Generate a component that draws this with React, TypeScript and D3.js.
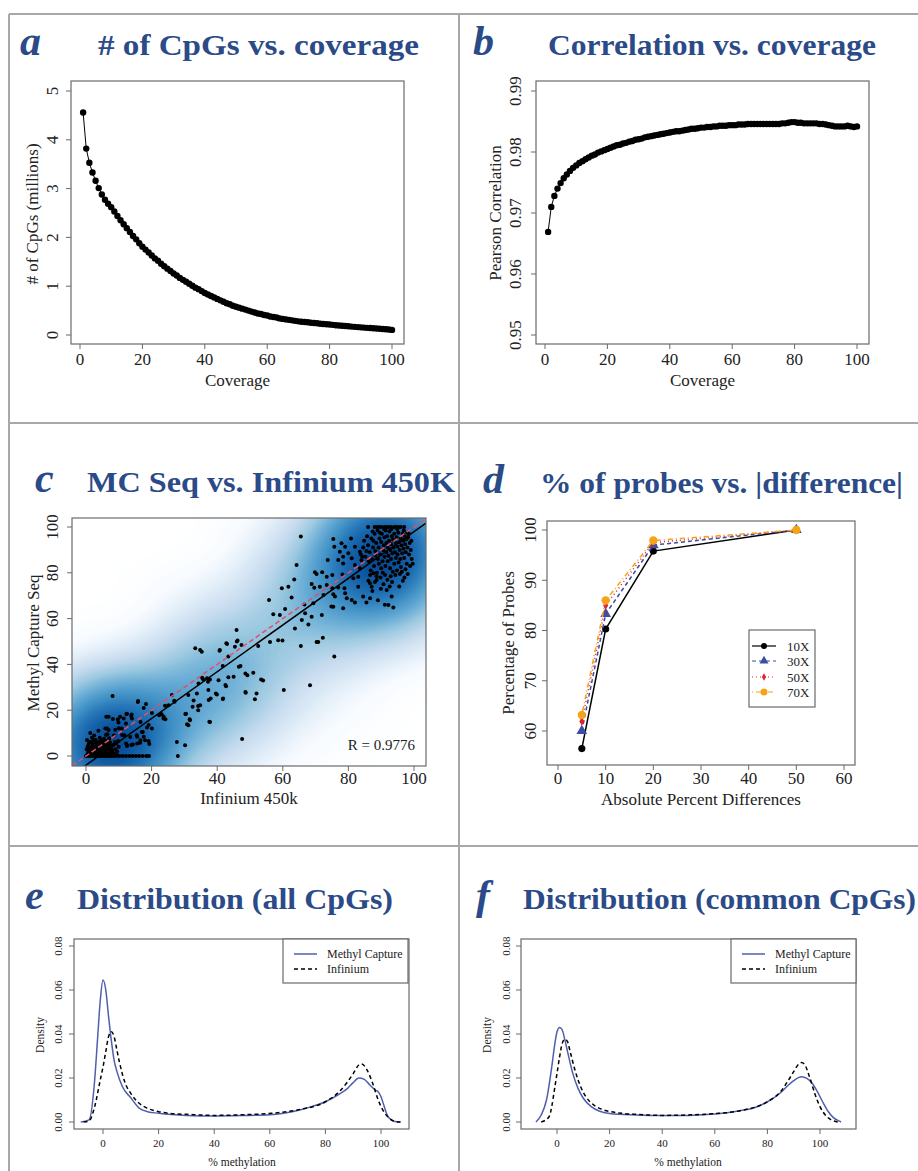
import React from "react";
import * as d3 from "d3";

const W = 918;
const H = 1171;
const TITLE_COLOR = "#2b4b88";
const SERIF = "'Liberation Serif', 'Times New Roman', serif";
const TITLE_FONT = "'Liberation Serif', 'Times New Roman', serif";

// ---------- Panel a / b data ----------
const coverage = d3.range(1, 101);
const cpgMillions = [
  4.56, 3.82, 3.53, 3.33, 3.16, 3.01, 2.88, 2.77, 2.69, 2.62,
  2.53, 2.44, 2.35, 2.27, 2.19, 2.11, 2.03, 1.96, 1.88, 1.81,
  1.75, 1.69, 1.63, 1.57, 1.52, 1.46, 1.41, 1.36, 1.31, 1.26,
  1.22, 1.17, 1.13, 1.09, 1.05, 1.01, 0.97, 0.94, 0.90, 0.86,
  0.83, 0.80, 0.77, 0.74, 0.71, 0.68, 0.65, 0.63, 0.60, 0.58,
  0.56, 0.54, 0.52, 0.50, 0.48, 0.46, 0.44, 0.43, 0.41, 0.40,
  0.38, 0.37, 0.36, 0.34, 0.33, 0.32, 0.31, 0.30, 0.29, 0.28,
  0.27, 0.265, 0.26, 0.25, 0.245, 0.24, 0.232, 0.225, 0.22, 0.215,
  0.208, 0.20, 0.195, 0.19, 0.185, 0.178, 0.172, 0.167, 0.162, 0.157,
  0.152, 0.147, 0.142, 0.137, 0.132, 0.127, 0.122, 0.117, 0.112, 0.105,
];
const pearson = [
  0.9669, 0.9710, 0.9728, 0.9740, 0.9749, 0.9757, 0.9763, 0.9769, 0.9774, 0.9778,
  0.9782, 0.9785, 0.9788, 0.9791, 0.9794, 0.9796, 0.9799, 0.9801, 0.9803, 0.9805,
  0.9807, 0.9809, 0.9811, 0.9812, 0.9814, 0.9815, 0.9817, 0.9818, 0.9820, 0.9821,
  0.9822, 0.9824, 0.9825, 0.9826, 0.9827, 0.9828, 0.9829, 0.9830, 0.9831, 0.9832,
  0.9833, 0.9834, 0.9834, 0.9835, 0.9836, 0.9837, 0.9838, 0.9838, 0.9839, 0.9840,
  0.9840, 0.9841, 0.9841, 0.9842, 0.9842, 0.9843, 0.9843, 0.9843, 0.9844, 0.9844,
  0.9844, 0.9845, 0.9845, 0.9845, 0.9846, 0.9846, 0.9846, 0.9846, 0.9846, 0.9846,
  0.9846, 0.9846, 0.9846, 0.9846, 0.9846, 0.9847, 0.9847, 0.9848, 0.9849, 0.9849,
  0.9848, 0.9848, 0.9847, 0.9847, 0.9847, 0.9847, 0.9847, 0.9846, 0.9846, 0.9845,
  0.9844, 0.9843, 0.9842, 0.9842, 0.9842, 0.9842, 0.9843, 0.9842, 0.9841, 0.9842,
];

// ---------- Panel c data: [Infinium 450k, Methyl Capture Seq] ----------
const mcPoints: [number, number][] = [
  // row at 0
  [0, 0], [0.6, 0], [1.2, 0], [1.8, 0], [2.4, 0], [3, 0], [3.6, 0], [4.2, 0], [4.8, 0], [5.4, 0],
  [6, 0], [6.6, 0], [7.2, 0], [7.8, 0], [8.5, 0], [9.3, 0], [10.2, 0], [11.2, 0], [12.2, 0], [13.2, 0],
  [14.2, 0], [15.2, 0], [16.2, 0], [17.3, 0], [18.4, 0], [19.2, 0], [28, 0],
  // low cluster
  [0.5, 1], [1, 2], [1.2, 3.5], [0.8, 5], [1.5, 6], [0.3, 7], [1.3, 10], [2, 1], [2.3, 2.5], [2.8, 4],
  [2, 5.5], [3, 1.5], [3.5, 3], [3.2, 4.8], [3.8, 6], [4, 1], [4.3, 2.2], [4.5, 3.8], [4.8, 5], [5, 1.6],
  [5.3, 3], [5.5, 4.3], [5.8, 2], [6, 5], [6.2, 3.5], [6.5, 1.2], [6.8, 2.8], [7, 4], [7.3, 6], [7.5, 1.5],
  [7.8, 3.2], [8, 2.3], [8.3, 4.8], [8.6, 1.1], [9, 3], [9.2, 5.5], [9.5, 2], [10, 4], [1.8, 8], [2.5, 9],
  [3, 7], [4.2, 8], [5.5, 7.5], [6.5, 9.5], [8.5, 9], [3.8, 11], [0.2, 3], [0.5, 4], [1.6, 0.8], [2.6, 0.6],
  [3.6, 1.8], [4.6, 0.8], [5.6, 0.7], [6.6, 0.5], [7.6, 0.6], [8.2, 0.9], [9.3, 0.8], [1.1, 1.5], [2.1, 3.2], [3.1, 2.6],
  [4.1, 4.4], [5.1, 5.8], [6.1, 6.6], [7.1, 7.8], [0.7, 2.3], [9.8, 6.5], [2.7, 1.9], [3.9, 2.9], [5.9, 3.9], [4.4, 6.4],
  [1.9, 4.1], [0.9, 6.2], [2.9, 5.9], [6.9, 5.2], [7.9, 4.6], [1.4, 2.9], [2.2, 7.1], [8.8, 6.1],
  // 5 - 20
  [8.1, 26.2], [15.9, 24], [18.3, 22.7], [17.6, 21], [12.3, 18.3], [13.8, 17.5], [14, 16.4], [6.9, 17.1], [8.2, 16.2], [9.9, 14.6],
  [11.5, 16.4], [12.2, 14.2], [5.9, 12], [6.9, 11.4], [10, 12.1], [11, 9.2], [16.6, 14.9], [17.3, 10.5], [18.6, 12.4], [19.1, 13.5],
  [17.6, 8.4], [15.6, 8.4], [16.6, 6.9], [12.2, 5.5], [13.8, 4.8], [12.5, 4.4], [15.6, 5.5], [19.3, 5.2], [6.1, 9.2], [4.9, 6.9],
  [11.7, 9.1], [13.5, 8.3], [15.5, 9.1], [17, 10.5], [20.1, 12], [18, 6.9], [19.1, 6.6], [14.3, 5], [12.5, 4.7], [16.5, 5.8],
  [10.4, 17.1], [6.2, 17.1], [9.7, 15.9], [6.4, 12], [8.9, 11.5], [10.9, 12], [12.5, 18.5], [13.9, 18.1], [15.8, 23.6], [20.1, 18.8],
  // 20 - 55
  [22.9, 18.3], [23.7, 17.1], [24.2, 16], [25.2, 22.2], [26.2, 26.6], [27, 23.7], [26.9, 24.1], [24.1, 21.9], [27.7, 6.1], [30.2, 4.7],
  [30.3, 18.3], [30.8, 13.9], [31.6, 16], [32.5, 21.5], [34.2, 21.8], [34.2, 20], [32.8, 24.2], [35.4, 34.2], [35.7, 33.5], [36.9, 33.9],
  [37.2, 32.4], [37.4, 24.5], [37.6, 15], [39.9, 26.9], [41.8, 25.1], [42.5, 31], [45, 34.6], [33.3, 47], [34.8, 46.3], [40.8, 46.3],
  [42.8, 49.2], [46, 50], [46.6, 39], [48.6, 36], [48.6, 28], [47.6, 7.4], [47.1, 39.3], [45.9, 55], [46.2, 50.4], [47.4, 48.5],
  [45.4, 47.7], [43, 48.9], [43.4, 43.4], [41.7, 39.3], [49.2, 35.3], [51, 36.4], [53.4, 33.4], [43.4, 34.4], [40.4, 33.1], [37.8, 33.4],
  [34.3, 31.7], [31.2, 26.6], [33.8, 27.3], [37.3, 28.8], [39.6, 27.3], [41.7, 24.9], [42.7, 30.5], [38, 25.1], [34.8, 22.2], [30.5, 18.5],
  [31.7, 15.6], [31.2, 13.4], [37.8, 14.9], [48.7, 27.6], [52, 27.3], [51.5, 24.8], [23.1, 18.1], [22.3, 17.8], [23.6, 16.4], [35.3, 45.5],
  [40.7, 46], [52.5, 48], [54, 33],
  // 55 - 85
  [65.5, 95.8], [75.4, 94.8], [80.8, 95], [77.9, 92.9], [75.7, 91.4], [79, 91.4], [82, 91.4], [77.4, 89.2], [80, 88.5], [83.5, 89.2],
  [78.4, 87], [81, 86.3], [84.2, 87], [73.7, 85.6], [76.9, 85.6], [64.2, 83.4], [78.4, 84.1], [82, 83.4], [83.5, 82], [69.8, 80.2],
  [70.3, 79.5], [72, 80.2], [73.4, 78.3], [75.1, 79], [78.2, 79.3], [81.5, 77.6], [83, 78.3], [87.6, 79.8], [63.5, 77.1], [61.7, 73.9],
  [59.7, 73.2], [68.8, 75.1], [69.6, 73.5], [71.3, 73.9], [73.4, 74.7], [75.1, 73.2], [76.9, 73.6], [78.8, 73.2], [83, 73.9], [86.6, 75.4],
  [87.1, 73.9], [88.6, 76.9], [62.7, 69.2], [72.4, 70.3], [75.4, 70.6], [75.9, 69.6], [79, 71.1], [79.5, 68.9], [81, 68.1], [82, 67],
  [84.5, 69.6], [86.6, 68.9], [55.8, 68.1], [69.3, 66.7], [75.4, 65.2], [93.2, 69.6], [92.2, 65.9], [93.7, 64.8], [57.1, 61.9], [66.6, 66.2],
  [66.8, 62.3], [60.7, 64.2], [59.1, 61.6], [68.8, 60.8], [71.9, 61.6], [65.8, 59.4], [67.8, 57.4], [63.7, 55.7], [56.1, 49.8], [58.6, 50.6],
  [70.3, 49.8], [70.8, 49.8], [72.2, 51.6], [65.5, 48], [75.7, 43.4], [68.3, 30.9], [60.3, 28.8], [59.9, 50.4], [85.5, 67], [74.8, 65.3],
  [78.4, 64.5],
  // top cluster
  [86, 92], [86.5, 89], [87, 95], [87.2, 86], [87.5, 91], [87.8, 83], [88, 97], [88.2, 89.5], [88.5, 93], [88.7, 80],
  [89, 86], [89.2, 91], [89.5, 95], [89.7, 88], [90, 82], [90, 93.5], [90.2, 97], [90.4, 85], [90.6, 90], [90.8, 92],
  [91, 87], [91, 95.5], [91.2, 79], [91.3, 83], [91.5, 89], [91.6, 93], [91.8, 96], [92, 85], [92, 91], [92.2, 87.5],
  [92.4, 94], [92.5, 98], [92.7, 82], [92.8, 90], [93, 92.5], [93, 86], [93.2, 96], [93.4, 88.5], [93.5, 80.5], [93.6, 94.5],
  [93.8, 91], [94, 84], [94, 97], [94.2, 89], [94.4, 93], [94.5, 86.5], [94.7, 95.5], [94.8, 81], [95, 91.5], [95, 88],
  [95.2, 97.5], [95.3, 84.5], [95.5, 93.5], [95.6, 90], [95.8, 86], [96, 95], [96, 82.5], [96.2, 92], [96.4, 88.5], [96.5, 97],
  [96.7, 94], [96.8, 90.5], [97, 86.5], [97.2, 96], [97.3, 92.5], [97.5, 89], [97.7, 94.5], [97.8, 84], [98, 91], [98.2, 95.5],
  [98.5, 88], [98.7, 93], [99, 90], [99.2, 94], [89.3, 84], [88.3, 87.5], [87.6, 94], [86.2, 85], [85.7, 96], [85.5, 89.5],
  [86.8, 81], [89.8, 78], [90.5, 80], [91.9, 77], [88.1, 76], [92.9, 78.5], [94.3, 79], [95.7, 79.5], [96.3, 80.5], [97.4, 81.5],
  [98.8, 83], [99.3, 86], [93.1, 99], [94.9, 99], [91.4, 98.5], [90.9, 99], [96.9, 98.5], [97.9, 97.5], [98.4, 97], [89.6, 97.5],
  [88.9, 98.5], [87.4, 98], [84.8, 94], [84.5, 91], [85.2, 87], [86.6, 79], [84, 85.5], [83.8, 88], [88.6, 78.5], [89.9, 73],
  [90.7, 75], [91.7, 72.5], [92.6, 74], [93.3, 76], [87.3, 72], [86.1, 76.5], [89, 68], [91.1, 66], [95.5, 74], [96.6, 76.5],
  [97.1, 78], [98.1, 79.5], [99.6, 84],
  // row at 100
  [86, 100], [88, 100], [88.7, 100], [89.4, 100], [90, 100], [91, 100], [91.7, 100], [92.4, 100], [93, 100], [94, 100],
  [94.6, 100], [95.3, 100], [96, 100], [97, 100],
];
const fitIntercept = -4.0;
const fitSlope = 1.02;
const rLabel = "R = 0.9776";

// ---------- Panel d data ----------
const diffThresholds = [5, 10, 20, 50];
const probes10X = [56.5, 80.3, 95.8, 100];
const probes30X = [60.0, 83.3, 97.0, 100];
const probes50X = [61.9, 85.0, 97.5, 100];
const probes70X = [63.2, 86.0, 97.9, 100];

// ---------- Panel e / f data ----------
const eMethylX = [-8, -5, -3, -2, -1, 0, 1, 2, 3, 4, 5, 7, 10, 13, 16, 20, 30, 40, 50, 60, 65, 70, 75, 80, 85, 88, 90, 92, 94, 96, 98, 99, 100, 101, 102, 103, 105, 107];
const eMethylY = [0, 0.001, 0.019, 0.037, 0.055, 0.0645, 0.060, 0.048, 0.037, 0.028, 0.023, 0.016, 0.011, 0.0063, 0.0047, 0.004, 0.003, 0.0027, 0.0029, 0.0033, 0.004, 0.0052, 0.007, 0.0092, 0.0127, 0.0153, 0.0179, 0.020, 0.0194, 0.0168, 0.0145, 0.0138, 0.0115, 0.0077, 0.0039, 0.0017, 0.0002, 0];
const eInfX = [-7, -5, -3, -1, 0, 1, 2, 3, 4, 5, 6, 8, 10, 13, 16, 20, 25, 30, 40, 50, 60, 70, 80, 85, 88, 90, 92, 93, 95, 97, 99, 101, 103, 105, 107];
const eInfY = [0, 0.0005, 0.007, 0.019, 0.025, 0.032, 0.0388, 0.041, 0.0388, 0.0327, 0.0267, 0.0176, 0.013, 0.0085, 0.0062, 0.0047, 0.0038, 0.0035, 0.003, 0.0033, 0.0039, 0.0055, 0.0092, 0.0138, 0.0183, 0.022, 0.0259, 0.0264, 0.0236, 0.0176, 0.010, 0.0047, 0.0017, 0.0003, 0];
const fMethylX = [-8, -6, -4, -2, -1, 0, 1, 2, 3, 4, 6, 8, 10, 13, 16, 20, 30, 40, 50, 60, 70, 75, 80, 85, 88, 90, 92, 93, 95, 97, 99, 101, 103, 105, 107, 108];
const fMethylY = [0, 0.0032, 0.010, 0.025, 0.034, 0.041, 0.043, 0.0418, 0.0373, 0.032, 0.0221, 0.0153, 0.0108, 0.007, 0.005, 0.0039, 0.0032, 0.0029, 0.003, 0.0036, 0.0052, 0.0065, 0.0092, 0.0133, 0.0168, 0.0188, 0.0203, 0.0206, 0.0198, 0.0176, 0.0138, 0.0092, 0.005, 0.0021, 0.0006, 0];
const fInfX = [-6, -3, -2, -1, 0, 1, 2, 3, 4, 5, 7, 9, 11, 14, 17, 20, 25, 30, 40, 50, 60, 70, 80, 85, 88, 90, 92, 93, 94, 96, 98, 100, 102, 104, 106, 107];
const fInfY = [0, 0.0024, 0.007, 0.0145, 0.022, 0.0297, 0.0358, 0.0377, 0.0365, 0.032, 0.0229, 0.016, 0.0115, 0.0077, 0.0058, 0.0048, 0.0039, 0.0035, 0.003, 0.0032, 0.0038, 0.0052, 0.0092, 0.0138, 0.019, 0.0229, 0.0264, 0.027, 0.0264, 0.0206, 0.013, 0.007, 0.0032, 0.0012, 0.0002, 0];

// ---------- tick labels ----------
const covTicks = [0, 20, 40, 60, 80, 100];
const cpgTicks = [0, 1, 2, 3, 4, 5];
const corTicks = [0.95, 0.96, 0.97, 0.98, 0.99];
const pctTicks = [0, 20, 40, 60, 80, 100];
const diffTicks = [0, 10, 20, 30, 40, 50, 60];
const probeTicks = [60, 70, 80, 90, 100];
const densTicks = [0, 0.02, 0.04, 0.06, 0.08];

const smoothRamp = ["#FFFFFF", "#F7FBFF", "#DEEBF7", "#C6DBEF", "#9ECAE1", "#6BAED6", "#4292C6", "#2171B5", "#08519C", "#08306B"];

type Box = { x0: number; y0: number; x1: number; y1: number };

function Axes(props: {
  b: Box;
  xs: d3.ScaleLinear<number, number>;
  ys: d3.ScaleLinear<number, number>;
  xt: number[];
  yt: number[];
  yfmt?: (v: number) => string;
  fs: number;
  xLabBase: number;
  yLabBase: number;
  tick: number;
  stroke?: string;
}) {
  const { b, xs, ys, xt, yt, fs, xLabBase, yLabBase, tick } = props;
  const yfmt = props.yfmt || ((v: number) => String(v));
  const st = props.stroke || "#6a6a6a";
  return (
    <g>
      <rect x={b.x0} y={b.y0} width={b.x1 - b.x0} height={b.y1 - b.y0} fill="none" stroke={st} strokeWidth={1.2} />
      {xt.map((v) => (
        <g key={"x" + v}>
          <line x1={xs(v)} x2={xs(v)} y1={b.y1} y2={b.y1 + tick} stroke={st} strokeWidth={1} />
          <text x={xs(v)} y={xLabBase} textAnchor="middle" fontFamily={SERIF} fontSize={fs} fill="#222">
            {String(v)}
          </text>
        </g>
      ))}
      {yt.map((v) => (
        <g key={"y" + v}>
          <line x1={b.x0 - tick} x2={b.x0} y1={ys(v)} y2={ys(v)} stroke={st} strokeWidth={1} />
          <text
            transform={`translate(${yLabBase},${ys(v)}) rotate(-90)`}
            textAnchor="middle"
            fontFamily={SERIF}
            fontSize={fs}
            fill="#222"
          >
            {yfmt(v)}
          </text>
        </g>
      ))}
    </g>
  );
}

function Title(props: { letter: string; lx: number; x0: number; x1: number; base: number; text: string }) {
  return (
    <g fill={TITLE_COLOR}>
      <text x={props.lx} y={props.base} fontFamily={TITLE_FONT} fontWeight="bold" fontStyle="italic" fontSize={42}>
        {props.letter}
      </text>
      <text
        x={props.x0}
        y={props.base}
        fontFamily={TITLE_FONT}
        fontWeight="bold"
        fontSize={30}
        textLength={props.x1 - props.x0}
        lengthAdjust="spacingAndGlyphs"
      >
        {props.text}
      </text>
    </g>
  );
}

function AxisTitle(props: { x: number; y: number; text: string; fs: number; rotate?: boolean }) {
  return (
    <text
      transform={`translate(${props.x},${props.y})${props.rotate ? " rotate(-90)" : ""}`}
      textAnchor="middle"
      fontFamily={SERIF}
      fontSize={props.fs}
      fill="#222"
    >
      {props.text}
    </text>
  );
}

export default function App() {
  // ----- panel a -----
  const bA: Box = { x0: 71, y0: 81, x1: 404, y1: 344 };
  const xA = d3.scaleLinear().domain([0, 100]).range([80, 392]);
  const yA = d3.scaleLinear().domain([0, 5]).range([335, 91]);
  const lineA = d3.line<number>().x((_, i) => xA(coverage[i])).y((d) => yA(d))(cpgMillions) || "";

  // ----- panel b -----
  const bB: Box = { x0: 536, y0: 81, x1: 869, y1: 344 };
  const xB = d3.scaleLinear().domain([0, 100]).range([545, 857]);
  const yB = d3.scaleLinear().domain([0.95, 0.99]).range([335, 91]);
  const lineB = d3.line<number>().x((_, i) => xB(coverage[i])).y((d) => yB(d))(pearson) || "";

  // ----- panel c -----
  const bC: Box = { x0: 72, y0: 518, x1: 426, y1: 766 };
  const xC = d3.scaleLinear().domain([0, 100]).range([86, 414]);
  const yC = d3.scaleLinear().domain([0, 100]).range([756, 527]);
  const cW = bC.x1 - bC.x0;
  const cH = bC.y1 - bC.y0;
  const dens = d3
    .contourDensity<[number, number]>()
    .x((d) => xC(d[0]) - bC.x0)
    .y((d) => yC(d[1]) - bC.y0)
    .size([cW, cH])
    .cellSize(2)
    .bandwidth(34)
    .contours(mcPoints);
  const colorC = d3
    .scaleLinear<string>()
    .domain(smoothRamp.map((_, i) => i / (smoothRamp.length - 1)))
    .range(smoothRamp)
    .interpolate(d3.interpolateRgb);
  const geo = d3.geoPath();
  const NL = 90;
  const layers = d3.range(1, NL + 1).map((i) => {
    const t = i / NL;
    return { d: geo(dens(dens.max * Math.pow(t, 2.2)) as any) || "", c: colorC(t * 0.92) };
  });
  const cxMin = xC.invert(bC.x0);
  const cxMax = xC.invert(bC.x1);

  // ----- panel d -----
  const bD: Box = { x0: 547, y0: 521, x1: 855, y1: 765 };
  const xD = d3.scaleLinear().domain([0, 60]).range([558, 844]);
  const yD = d3.scaleLinear().domain([60, 100]).range([731, 530]);
  const series = [
    { name: "10X", vals: probes10X, color: "#000000", dash: "none", sym: d3.symbolCircle, size: 40 },
    { name: "30X", vals: probes30X, color: "#3c4ea3", dash: "4,3", sym: d3.symbolTriangle, size: 50 },
    { name: "50X", vals: probes50X, color: "#e2232e", dash: "1,3", sym: d3.symbolDiamond, size: 22 },
    { name: "70X", vals: probes70X, color: "#f6a31a", dash: "1,3,5,3", sym: d3.symbolCircle, size: 55 },
  ];
  const lineD = (vals: number[]) =>
    d3.line<number>().x((_, i) => xD(diffThresholds[i])).y((d) => yD(d))(vals) || "";
  const legD = { x0: 749, y0: 630, x1: 815, y1: 707 };
  const legDy = [646, 661, 677, 692];

  // ----- panel e / f -----
  const bE: Box = { x0: 74, y0: 939, x1: 409, y1: 1129 };
  const xE = d3.scaleLinear().domain([0, 100]).range([103, 381]);
  const yE = d3.scaleLinear().domain([0, 0.08]).range([1122, 946]);
  const bF: Box = { x0: 521, y0: 939, x1: 856, y1: 1129 };
  const xF = d3.scaleLinear().domain([0, 100]).range([557, 820]);
  const yF = yE;
  const dl = (xs: d3.ScaleLinear<number, number>, ys: d3.ScaleLinear<number, number>, X: number[], Y: number[]) =>
    d3
      .line<number>()
      .x((_, i) => xs(X[i]))
      .y((d) => ys(d))
      .curve(d3.curveMonotoneX)(Y) || "";
  const methylColor = "#4f5fae";

  const DensLegend = (p: { x0: number }) => (
    <g>
      <rect x={p.x0} y={939} width={125} height={44} fill="#fff" stroke="#6a6a6a" strokeWidth={1.2} />
      <line x1={p.x0 + 11} x2={p.x0 + 34} y1={954} y2={954} stroke={methylColor} strokeWidth={1.5} />
      <line x1={p.x0 + 11} x2={p.x0 + 34} y1={969} y2={969} stroke="#000" strokeWidth={1.5} strokeDasharray="4,3" />
      <text x={p.x0 + 44} y={958} fontFamily={SERIF} fontSize={12} fill="#222">
        Methyl Capture
      </text>
      <text x={p.x0 + 44} y={973} fontFamily={SERIF} fontSize={12} fill="#222">
        Infinium
      </text>
    </g>
  );

  const fs = 17;
  const yTickFmt2 = (v: number) => v.toFixed(2);

  return (
    <svg
      width={W}
      height={H}
      viewBox={`0 0 ${W} ${H}`}
      style={{ position: "absolute", left: 0, top: 0, background: "#fff" }}
    >
      <defs>
        <clipPath id="clipC">
          <rect x={bC.x0} y={bC.y0} width={cW} height={cH} />
        </clipPath>
      </defs>
      <rect x={0} y={0} width={W} height={H} fill="#fff" />

      {/* frame */}
      <g stroke="#a8a8a8" strokeWidth={2}>
        <line x1={9} x2={W} y1={14} y2={14} />
        <line x1={9} x2={W} y1={423} y2={423} />
        <line x1={9} x2={W} y1={846} y2={846} />
        <line x1={9} x2={9} y1={14} y2={H} />
        <line x1={459} x2={459} y1={14} y2={H} />
      </g>

      {/* ---------- a ---------- */}
      <Title letter="a" lx={20} x0={98} x1={419} base={55} text="# of CpGs vs. coverage" />
      <path d={lineA} fill="none" stroke="#000" strokeWidth={1} />
      {cpgMillions.map((v, i) => (
        <circle key={i} cx={xA(coverage[i])} cy={yA(v)} r={3.2} fill="#000" />
      ))}
      <Axes b={bA} xs={xA} ys={yA} xt={covTicks} yt={cpgTicks} fs={fs} xLabBase={365} yLabBase={58} tick={5} />
      <AxisTitle x={237.5} y={386} text="Coverage" fs={fs} />
      <AxisTitle x={38} y={214} text="# of CpGs (millions)" fs={fs} rotate />

      {/* ---------- b ---------- */}
      <Title letter="b" lx={473} x0={548} x1={876} base={55} text="Correlation vs. coverage" />
      <path d={lineB} fill="none" stroke="#000" strokeWidth={1} />
      {pearson.map((v, i) => (
        <circle key={i} cx={xB(coverage[i])} cy={yB(v)} r={3.2} fill="#000" />
      ))}
      <Axes b={bB} xs={xB} ys={yB} xt={covTicks} yt={corTicks} yfmt={yTickFmt2} fs={fs} xLabBase={365} yLabBase={521} tick={5} />
      <AxisTitle x={702.5} y={386} text="Coverage" fs={fs} />
      <AxisTitle x={501} y={213} text="Pearson Correlation" fs={fs} rotate />

      {/* ---------- c ---------- */}
      <Title letter="c" lx={35} x0={87} x1={455} base={492} text="MC Seq vs. Infinium 450K" />
      <g clipPath="url(#clipC)">
        <g transform={`translate(${bC.x0},${bC.y0})`}>
          {layers.map((l, i) => (
            <path key={i} d={l.d} fill={l.c} stroke="none" />
          ))}
        </g>
        {mcPoints.map((p, i) => (
          <circle key={i} cx={xC(p[0])} cy={yC(p[1])} r={2} fill="#000" />
        ))}
        <line
          x1={xC(cxMin)}
          x2={xC(cxMax)}
          y1={yC(fitIntercept + fitSlope * cxMin)}
          y2={yC(fitIntercept + fitSlope * cxMax)}
          stroke="#000"
          strokeWidth={1.5}
        />
        <line
          x1={xC(cxMin)}
          x2={xC(cxMax)}
          y1={yC(cxMin)}
          y2={yC(cxMax)}
          stroke="#e0506a"
          strokeWidth={1.5}
          strokeDasharray="5,3"
        />
      </g>
      <Axes b={bC} xs={xC} ys={yC} xt={pctTicks} yt={pctTicks} fs={fs} xLabBase={784} yLabBase={58} tick={5} />
      <text x={415} y={750} textAnchor="end" fontFamily={SERIF} fontSize={15} fill="#222">
        {rLabel}
      </text>
      <AxisTitle x={249} y={804} text="Infinium 450k" fs={fs} />
      <AxisTitle x={39} y={643} text="Methyl Capture Seq" fs={fs} rotate />

      {/* ---------- d ---------- */}
      <Title letter="d" lx={483} x0={540} x1={903} base={493} text="% of probes vs. |difference|" />
      {series.map((s) => (
        <g key={s.name}>
          <path d={lineD(s.vals)} fill="none" stroke={s.color} strokeWidth={1.5} strokeDasharray={s.dash} />
          {s.vals.map((v, i) => (
            <path
              key={i}
              transform={`translate(${xD(diffThresholds[i])},${yD(v)})`}
              d={d3.symbol().type(s.sym).size(s.size)() || ""}
              fill={s.color}
            />
          ))}
        </g>
      ))}
      <Axes b={bD} xs={xD} ys={yD} xt={diffTicks} yt={probeTicks} fs={fs} xLabBase={784} yLabBase={536} tick={5} />
      <AxisTitle x={701} y={805} text="Absolute Percent Differences" fs={fs} />
      <AxisTitle x={514} y={643} text="Percentage of Probes" fs={fs} rotate />
      <rect x={legD.x0} y={legD.y0} width={legD.x1 - legD.x0} height={legD.y1 - legD.y0} fill="#fff" stroke="#6a6a6a" strokeWidth={1.2} />
      {series.map((s, i) => (
        <g key={"leg" + s.name}>
          <line x1={752} x2={776} y1={legDy[i]} y2={legDy[i]} stroke={s.color} strokeWidth={1.2} strokeDasharray={s.dash} />
          <path transform={`translate(764,${legDy[i]})`} d={d3.symbol().type(s.sym).size(s.size * 0.7)() || ""} fill={s.color} />
          <text x={787} y={legDy[i] + 4.5} fontFamily={SERIF} fontSize={13} fill="#222">
            {s.name}
          </text>
        </g>
      ))}

      {/* ---------- e ---------- */}
      <Title letter="e" lx={25} x0={77} x1={393} base={909} text="Distribution (all CpGs)" />
      <path d={dl(xE, yE, eMethylX, eMethylY)} fill="none" stroke={methylColor} strokeWidth={1.5} />
      <path d={dl(xE, yE, eInfX, eInfY)} fill="none" stroke="#000" strokeWidth={1.5} strokeDasharray="4,3" />
      <Axes b={bE} xs={xE} ys={yE} xt={covTicks} yt={densTicks} yfmt={yTickFmt2} fs={11} xLabBase={1147} yLabBase={62} tick={5} />
      <DensLegend x0={283} />
      <AxisTitle x={242} y={1166} text="% methylation" fs={11.5} />
      <AxisTitle x={44} y={1035} text="Density" fs={11.5} rotate />

      {/* ---------- f ---------- */}
      <Title letter="f" lx={476} x0={523} x1={916} base={909} text="Distribution (common CpGs)" />
      <path d={dl(xF, yF, fMethylX, fMethylY)} fill="none" stroke={methylColor} strokeWidth={1.5} />
      <path d={dl(xF, yF, fInfX, fInfY)} fill="none" stroke="#000" strokeWidth={1.5} strokeDasharray="4,3" />
      <Axes b={bF} xs={xF} ys={yF} xt={covTicks} yt={densTicks} yfmt={yTickFmt2} fs={11} xLabBase={1147} yLabBase={510} tick={5} />
      <DensLegend x0={731} />
      <AxisTitle x={688} y={1166} text="% methylation" fs={11.5} />
      <AxisTitle x={491} y={1035} text="Density" fs={11.5} rotate />
    </svg>
  );
}
